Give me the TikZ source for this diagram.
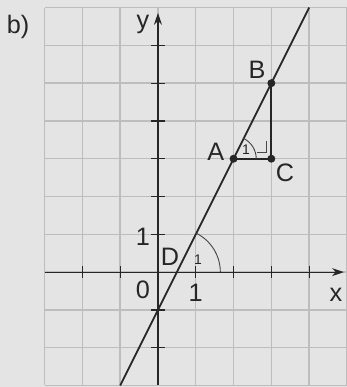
\documentclass[tikz,border=0pt]{standalone}
\usepackage{fontspec}
\setmainfont{Liberation Sans}
\usepackage{xcolor}
\usepackage{tikz}
\usetikzlibrary{positioning, arrows.meta, calc}
\definecolor{paper}{HTML}{E4E4E4}
\definecolor{gridgray}{HTML}{BDBDBD}
\definecolor{inkgray}{HTML}{262626}

\begin{document}
\begin{tikzpicture}[
    lbl/.style={text=inkgray, font=\fontsize{19}{21}\selectfont, inner sep=0pt},
    tinylbl/.style={text=inkgray, font=\fontsize{10.5}{11}\selectfont, inner sep=0pt},
    dot/.style={circle, fill=inkgray, inner sep=0pt, minimum size=6pt},
    axis/.style={draw=inkgray, line width=0.9pt},
    anglearc/.style={draw=inkgray!85, line width=0.7pt}]
  \fill[paper] (-4.18,-3.04) rectangle (5,7.2);
  \useasboundingbox (-4.18,-3.04) rectangle (5,7.2);
  \draw[gridgray, line width=1.1pt] (-3,-3) grid (5,7);

  % axes
  \coordinate (xl) at (-3,0);
  \coordinate (xr) at (4.92,0);
  \coordinate (yb) at (0,-3);
  \coordinate (yt) at (0,6.86);
  \coordinate (O) at (0,0);
  \draw[axis, -{Stealth[length=9pt, width=6pt]}] (xl) -- (xr);
  \draw[axis, -{Stealth[length=9pt, width=6pt]}] (yb) -- (yt);
  \foreach \i in {-2,-1,1,2,3,4}
    \draw[axis] (\i,-0.16) -- (\i,0.16);
  \foreach \j in {-2,-1,1,2,3,4,5,6}
    \draw[axis] (-0.18,\j) -- (0.18,\j);

  \node[lbl] (xlab) at (4.71,-0.61) {x};
  \node[lbl] (ylab) at (-0.40,6.56) {y};
  \node[lbl] (zero) at (-0.40,-0.48) {0};
  \node[lbl] (onex) at (1.0,-0.56) {1};
  \node[lbl] (oney) at (-0.40,0.93) {1};
  \node[lbl] (part) at (-3.70,6.48) {b)};

  % the line y = 2x - 1
  \coordinate (lo) at (-1,-3);
  \coordinate (hi) at (4,7);
  \draw[inkgray, line width=1.4pt] (lo) -- (hi);

  % slope triangle
  \node[dot] (A) at (2,3) {};
  \node[dot] (B) at (3,5) {};
  \node[dot] (C) at (3,3) {};
  \draw[inkgray, line width=1.4pt] (A.center) -- (C.center) -- (B.center);
  \node[lbl] (Alab) at ($(A)+(-0.47,0.17)$) {A};
  \node[lbl] (Blab) at ($(B)+(-0.38,0.34)$) {B};
  \node[lbl] (Clab) at ($(C)+(0.36,-0.38)$) {C};
  \draw[anglearc] ($(A)+(0.6,0)$) arc[start angle=0, end angle=63.43, radius=0.6];
  \node[tinylbl] (Aone) at ($(A)+(0.33,0.23)$) {1};
  \draw[anglearc] ($(C)+(-0.38,0.17)$) -- ($(C)+(-0.13,0.17)$) -- ($(C)+(-0.13,0.48)$);

  % angle at the x-axis
  \coordinate (D) at (0.5,0);
  \node[lbl] (Dlab) at (0.32,0.40) {D};
  \draw[anglearc] ($(D)+(1.15,0)$) arc[start angle=0, end angle=63.43, radius=1.15];
  \node[tinylbl] (Done) at (1.06,0.32) {1};
\end{tikzpicture}
\end{document}
